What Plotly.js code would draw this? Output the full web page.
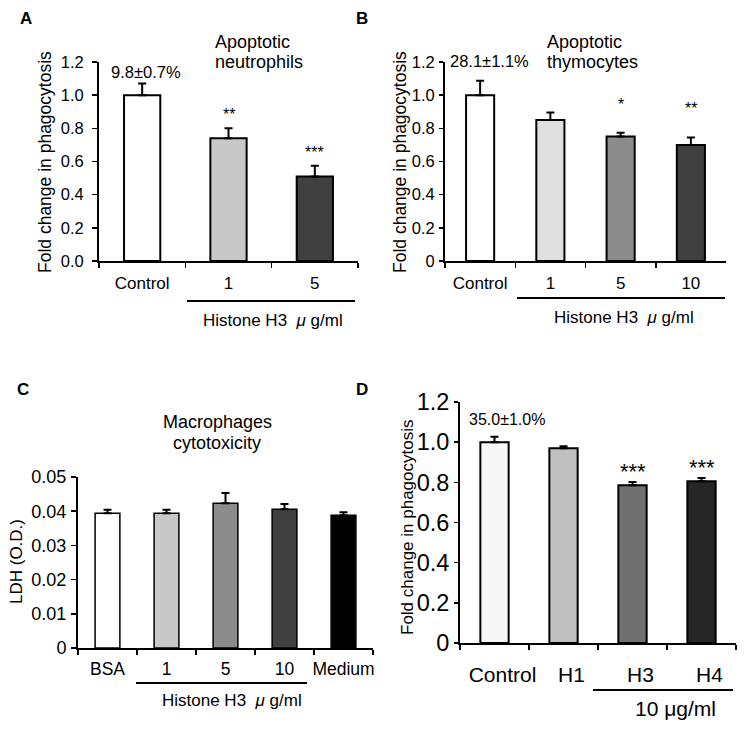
<!DOCTYPE html>
<html>
<head>
<meta charset="utf-8">
<script src="https://cdn.plot.ly/plotly-3.0.1.min.js"></script>
<style>html,body{margin:0;padding:0;background:#fff}</style>
</head>
<body>
<div id="div_plot" style="width:748px;height:734px"></div>
<script>
// A - apoptotic neutrophils
var catsA = ['Control', '1', '5'];
var valsA = [1.00, 0.74, 0.51];
var errA = [0.07, 0.06, 0.065];
var starsA = ['', '**', '***'];
var colorsA = ['#ffffff', '#c8c8c8', '#404040'];

// B - apoptotic thymocytes
var catsB = ['Control', '1', '5', '10'];
var valsB = [1.00, 0.85, 0.75, 0.70];
var errB = [0.087, 0.045, 0.024, 0.045];
var starsB = ['', '', '*', '**'];
var colorsB = ['#ffffff', '#e0e0e0', '#8c8c8c', '#404040'];

// C - macrophages cytotoxicity
var catsC = ['BSA', '1', '5', '10', 'Medium'];
var valsC = [0.0394, 0.0394, 0.0423, 0.0406, 0.0388];
var errC = [0.0010, 0.0010, 0.0030, 0.0015, 0.0009];
var colorsC = ['#ffffff', '#c8c8c8', '#8c8c8c', '#404040', '#000000'];

// D - histones H1/H3/H4
var catsD = ['Control', 'H1', 'H3', 'H4'];
var valsD = [1.00, 0.97, 0.785, 0.805];
var errD = [0.027, 0.01, 0.017, 0.016];
var starsD = ['', '', '***', '***'];
var colorsD = ['#f7f7f7', '#c0c0c0', '#707070', '#262626'];

var ticksPhago = [0, 0.2, 0.4, 0.6, 0.8, 1.0, 1.2];
var tickTextA = ['0.0', '0.2', '0.4', '0.6', '0.8', '1.0', '1.2'];
var tickTextBD = ['0', '0.2', '0.4', '0.6', '0.8', '1.0', '1.2'];
var ticksLDH = [0, 0.01, 0.02, 0.03, 0.04, 0.05];
var tickTextC = ['0', '0.01', '0.02', '0.03', '0.04', '0.05'];

var FONT = 'Liberation Sans, Arial, sans-serif';
var W = 748, H = 734;
function px(x){ return x / W; }
function py(y){ return 1 - y / H; }

function make_bar(n, cats, vals, errs, colors, bw, lw){
   return {
      type: 'bar',
      x: cats,
      y: vals,
      width: bw,
      xaxis: 'x' + n,
      yaxis: 'y' + n,
      marker: {color: colors, line: {color: 'black', width: lw}},
      error_y: {
         type: 'data',
         symmetric: false,
         array: errs,
         arrayminus: errs.map(() => 0),
         color: 'black',
         thickness: 2,
         width: 4
      },
      hoverinfo: 'skip',
      showlegend: false
   };
}

function x_axis(n, domain, cats, fsize, standoff, shift){
   return {
      domain: domain,
      anchor: 'y' + n,
      type: 'category',
      range: [-0.5, cats.length - 0.5],
      showline: true, linecolor: 'black', linewidth: 2,
      ticks: 'outside', tickson: 'boundaries', ticklen: 5, tickwidth: 1.5, tickcolor: 'black',
      showgrid: false, zeroline: false,
      tickangle: 0,
      tickfont: {family: FONT, size: fsize, color: 'black'},
      ticklabelstandoff: standoff,
      ticklabelshift: shift || 0,
      fixedrange: true
   };
}

function y_axis(n, domain, range, vals, text, fsize, standoff, tlen){
   return {
      domain: domain,
      anchor: 'x' + n,
      range: range,
      tickvals: vals,
      ticktext: text,
      showline: true, linecolor: 'black', linewidth: 2,
      ticks: 'outside', ticklen: tlen, tickwidth: 1.5, tickcolor: 'black',
      showgrid: false, zeroline: false,
      tickfont: {family: FONT, size: fsize, color: 'black'},
      ticklabelstandoff: standoff,
      fixedrange: true
   };
}

var data = [
   make_bar('', catsA, valsA, errA, colorsA, 0.42, 2),
   make_bar('2', catsB, valsB, errB, colorsB, 0.40, 2),
   make_bar('3', catsC, valsC, errC, colorsC, 0.42, 1.5),
   make_bar('4', catsD, valsD, errD, colorsD, 0.41, 2)
];

var annotations = [];
function txt(x, y, text, size, opts){
   var a = {
      xref: 'paper', yref: 'paper', x: px(x), y: py(y), text: text,
      showarrow: false, xanchor: 'center', yanchor: 'middle',
      font: {family: FONT, size: size, color: 'black'}
   };
   Object.assign(a, opts || {});
   annotations.push(a);
}

// significance marks sit above each error bar (x given as category index)
function stars(n, vals, errs, labels, size, shift){
   labels.forEach((s, i) => {
      if(s === '') return;
      annotations.push({
         xref: 'x' + n, yref: 'y' + n, x: i, y: vals[i] + errs[i],
         text: s, showarrow: false, yanchor: 'bottom', yshift: shift,
         font: {family: FONT, size: size, color: 'black'}
      });
   });
}

stars('', valsA, errA, starsA, 16, 3);
stars('2', valsB, errB, starsB, 16, 18);
stars('4', valsD, errD, starsD, 22, -4);

// panel letters
txt(26, 19, '<b>A</b>', 17);
txt(362, 19, '<b>B</b>', 17);
txt(23, 389, '<b>C</b>', 17);
txt(362, 389, '<b>D</b>', 17);

// titles
txt(213, 42, 'Apoptotic', 18, {xanchor: 'left'});
txt(213, 62, 'neutrophils', 18, {xanchor: 'left'});
txt(545, 42, 'Apoptotic', 18, {xanchor: 'left'});
txt(545, 62, 'thymocytes', 18, {xanchor: 'left'});
txt(217, 422, 'Macrophages', 18);
txt(217, 443, 'cytotoxicity', 18);

// control percentages
txt(146, 72, '9.8±0.7%', 16.5);
txt(490, 61, '28.1±1.1%', 16.5);
txt(507, 419, '35.0±1.0%', 16);

// axis titles
txt(45, 162, 'Fold change in phagocytosis', 17.5, {textangle: -90});
txt(400, 162, 'Fold change in phagocytosis', 17.5, {textangle: -90});
txt(16, 562, 'LDH (O.D.)', 17, {textangle: -90});
txt(407, 527, 'Fold change in phagocytosis', 17, {textangle: -90});

// dose labels under the grouping lines
txt(273, 320, 'Histone H3  <i>μ</i> g/ml', 17);
txt(624, 317, 'Histone H3  <i>μ</i> g/ml', 17);
txt(232, 700, 'Histone H3  <i>μ</i> g/ml', 17);
txt(675, 708, '10 μg/ml', 21);

function hline(x0, x1, y){
   return {type: 'line', xref: 'paper', yref: 'paper', x0: px(x0), x1: px(x1), y0: py(y), y1: py(y),
      line: {color: 'black', width: 2}};
}

var layout = {
   width: W, height: H,
   margin: {l: 0, r: 0, t: 0, b: 0},
   paper_bgcolor: 'white', plot_bgcolor: 'white',
   showlegend: false,
   font: {family: FONT, color: 'black'},
   xaxis: x_axis('', [px(99), px(358)], catsA, 17, 6),
   yaxis: y_axis('', [py(261), py(62)], [0, 1.2], ticksPhago, tickTextA, 16.5, 5, 5),
   xaxis2: x_axis('2', [px(445), px(726)], catsB, 17, 6),
   yaxis2: y_axis('2', [py(261), py(62)], [0, 1.2], ticksPhago, tickTextBD, 16.5, 1, 4),
   xaxis3: x_axis('3', [px(78), px(373)], catsC, 17.5, 4),
   yaxis3: y_axis('3', [py(648), py(477)], [0, 0.05], ticksLDH, tickTextC, 18, 1, 5),
   xaxis4: x_axis('4', [px(460), px(736)], catsD, 21, 12, 8),
   yaxis4: y_axis('4', [py(643), py(402)], [0, 1.2], ticksPhago, tickTextBD, 23.5, 0, 4),
   shapes: [
      hline(187, 355, 301),
      hline(517, 725, 298),
      hline(136, 307, 683),
      hline(593, 733, 690)
   ],
   annotations: annotations
};

var config = {
   responsive: false,
   displayModeBar: false,
   staticPlot: true
};

Plotly.newPlot('div_plot', data, layout, config);
</script>
</body>
</html>
